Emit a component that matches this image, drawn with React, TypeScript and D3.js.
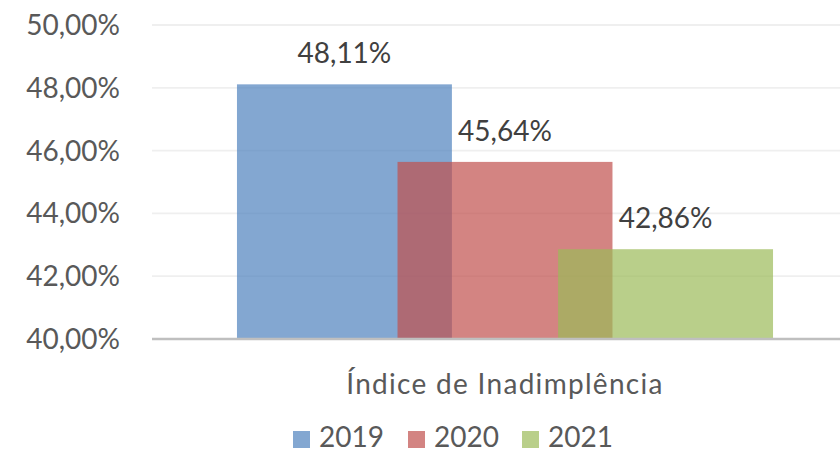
import React from "react";
import * as d3 from "d3";

const categories = ["Índice de Inadimplência"];
const seriesNames = ["2019", "2020", "2021"];
const values2019 = [0.4811];
const values2020 = [0.4564];
const values2021 = [0.4286];
const yTicks = [0.4, 0.42, 0.44, 0.46, 0.48, 0.5];
const seriesColors = ["#4F81BD", "#C0504D", "#9BBB59"];

const W = 840;
const H = 454;
const FONT = "Lato, 'Open Sans', sans-serif";

const locale = d3.formatLocale({
  decimal: ",",
  thousands: ".",
  grouping: [3],
  currency: ["R$", ""],
});
const fmt = locale.format(".2%");

export default function App() {
  const plotLeft = 152;
  const plotRight = 858;
  const y = d3.scaleLinear().domain([0.4, 0.5]).range([339, 25]);
  const x = d3
    .scaleBand<string>()
    .domain(categories)
    .range([plotLeft, plotRight])
    .paddingInner(0)
    .paddingOuter(0.1585);
  const groupW = x.bandwidth();
  const overlap = 0.253;
  const barW = groupW / (1 + (seriesNames.length - 1) * (1 - overlap));
  const xs = d3
    .scalePoint<string>()
    .domain(seriesNames)
    .range([0, groupW - barW]);
  const seriesValues = [values2019, values2020, values2021];

  const legendX = [293, 408, 522];

  return (
    <svg
      width={W}
      height={H}
      style={{ position: "absolute", left: 0, top: 0, background: "#fff" }}
      fontFamily={FONT}
    >
      {yTicks.map((t) =>
        t === 0.4 ? null : (
          <line
            key={"g" + t}
            x1={plotLeft}
            x2={plotRight}
            y1={y(t)}
            y2={y(t)}
            stroke="#EFEFEF"
            strokeWidth={1.8}
          />
        )
      )}
      {yTicks.map((t) => (
        <text
          key={"t" + t}
          x={120}
          y={y(t)}
          dy="0.36em"
          textAnchor="end"
          fontSize={28}
          fill="#595959"
        >
          {fmt(t)}
        </text>
      ))}
      {categories.map((c, ci) =>
        seriesNames.map((s, si) => {
          const v = seriesValues[si][ci];
          const bx = (x(c) as number) + (xs(s) as number);
          return (
            <g key={c + s}>
              <rect
                x={bx}
                y={y(v)}
                width={barW}
                height={y(0.4) - y(v)}
                fill={seriesColors[si]}
                fillOpacity={0.7}
              />
            </g>
          );
        })
      )}
      <line
        x1={plotLeft}
        x2={plotRight}
        y1={y(0.4)}
        y2={y(0.4)}
        stroke="#BFBFBF"
        strokeWidth={2.5}
      />
      {categories.map((c, ci) =>
        seriesNames.map((s, si) => {
          const v = seriesValues[si][ci];
          const bx = (x(c) as number) + (xs(s) as number);
          return (
            <text
              key={"l" + c + s}
              x={bx + barW / 2}
              y={y(v) - 21}
              textAnchor="middle"
              fontSize={28}
              fill="#404040"
            >
              {fmt(v)}
            </text>
          );
        })
      )}
      {categories.map((c) => (
        <text
          key={"c" + c}
          x={(x(c) as number) + groupW / 2}
          y={394}
          textAnchor="middle"
          fontSize={28}
          letterSpacing={1.3}
          fill="#595959"
        >
          {c}
        </text>
      ))}
      {seriesNames.map((s, i) => (
        <g key={"lg" + s}>
          <rect x={legendX[i]} y={431} width={17} height={17} fill={seriesColors[i]} fillOpacity={0.7} />
          <text x={legendX[i] + 26} y={447} fontSize={28} fill="#595959">
            {s}
          </text>
        </g>
      ))}
    </svg>
  );
}
